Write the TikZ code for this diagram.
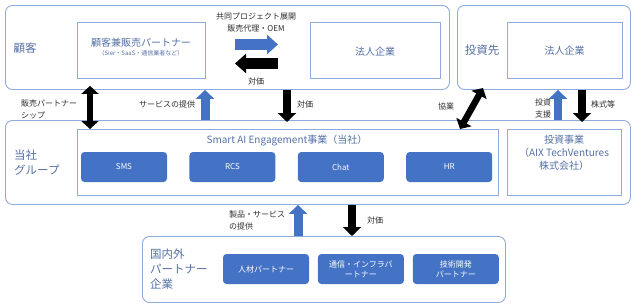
\documentclass[tikz,border=0pt]{standalone}
\usepackage{fontspec}
\setmainfont{Noto Sans CJK JP}
\usetikzlibrary{arrows.meta, positioning, calc}
\definecolor{FrameBlue}{RGB}{143,170,220}
\definecolor{UnitBlue}{RGB}{68,114,196}
\definecolor{LabelBlue}{RGB}{84,112,166}
\definecolor{NoteGray}{RGB}{45,45,45}
\tikzset{
  >=latex,
  % Frames
  group box/.style={draw=FrameBlue,line width=0.9pt,rounded corners=7pt,inner sep=0,anchor=north west},
  plain box/.style={draw=FrameBlue,line width=0.9pt,inner sep=0,anchor=north west},
  unit/.style={fill=UnitBlue,rounded corners=3.5pt,text=white,inner sep=0,minimum width=86pt,minimum height=30pt,align=center,font=\fontsize{8}{10}\selectfont},
  % Texts
  group label/.style={text=LabelBlue,inner sep=0,align=left,font=\fontsize{11.5}{15}\selectfont},
  box label/.style={text=LabelBlue,inner sep=0,align=center,font=\fontsize{10}{13}\selectfont},
  note/.style={text=NoteGray,inner sep=0,align=left,font=\fontsize{8}{12}\selectfont},
  % Block arrows
  flow/.style={line width=7.5pt,-{Triangle[length=9pt,width=18pt]}},
  wide flow/.style={line width=11pt,-{Triangle[length=11pt,width=19pt]}},
  both flow/.style={line width=6.5pt,{Triangle[length=8pt,width=17pt]}-{Triangle[length=8pt,width=17pt]}}
}

\begin{document}
\begin{tikzpicture}[x=1pt,y=-1pt]
  \useasboundingbox (0,0) rectangle (635,306);

  % customers and investees
  \node[group box,minimum width=444pt,minimum height=84pt] (customer) at (5,5) {};
  \node[group box,minimum width=173pt,minimum height=84pt] (investee) at (457,5) {};
  \node[plain box,minimum width=128pt,minimum height=56pt] (dualpartner) at (77,22) {};
  \node[plain box,minimum width=130pt,minimum height=56pt] (corpA) at (310,22) {};
  \node[plain box,minimum width=115pt,minimum height=56pt] (corpB) at (507,22) {};
  \node[group label] (customerlbl) at (25,48) {顧客};
  \node[group label] (investeelbl) at (482,50) {投資先};
  \node[box label] (dualpartnerlbl) at (141,43) {顧客兼販売パートナー};
  \node[box label,font=\fontsize{6}{8}\selectfont] (dualpartnersub) at (141,53.5) {（Sier・SaaS・通信業者など）};
  \node[box label] (corpAlbl) at (375,52) {法人企業};
  \node[box label] (corpBlbl) at (564.5,51) {法人企業};

  % own group
  \node[group box,minimum width=625pt,minimum height=84pt] (group) at (5,120) {};
  \node[plain box,minimum width=421pt,minimum height=66pt] (saie) at (77,129) {};
  \node[plain box,minimum width=114pt,minimum height=66pt] (invunit) at (507,129) {};
  \node[group label] (grouplbl) at (14,162.5) [anchor=west] {当社\\グループ};
  \node[box label] (saielbl) at (287,140) {Smart AI Engagement事業（当社）};
  \node[box label] (invunitlbl) at (564,153) {投資事業\\（AIX TechVentures\\株式会社）};
  \node[unit] (sms) at (124,167) {SMS};
  \node[unit,right=22pt of sms] (rcs) {RCS};
  \node[unit,right=22pt of rcs] (chat) {Chat};
  \node[unit,right=22pt of chat] (hr) {HR};

  % partners
  \node[group box,minimum width=363pt,minimum height=66pt] (partner) at (142,236) {};
  \node[group label,anchor=west] (partnerlbl) at (150,269.5) {国内外\\パートナー\\企業};
  \node[unit] (hrpartner) at (266,269) {人材パートナー};
  \node[unit,right=8.5pt of hrpartner] (infrapartner) {通信・インフラパ\\ートナー};
  \node[unit,right=8.5pt of infrapartner] (techpartner) {技術開発\\パートナー};

  % arrows in the customer row
  \coordinate (oemS) at (235,44.5); \coordinate (oemE) at (278,44.5);
  \coordinate (payS) at (278,63.5); \coordinate (payE) at (235,63.5);
  \draw[wide flow,UnitBlue] (oemS) -- (oemE);
  \draw[wide flow,black] (payS) -- (payE);
  \node[note,align=center] (oemlbl) at (256,23) {共同プロジェクト展開\\販売代理・OEM};
  \node[note] (paylbl) at (256,81) {対価};

  % arrows between customers and group
  \coordinate (salesX) at (90,0);
  \coordinate (serviceX) at (205,0);
  \coordinate (feeX) at (287,0);
  \coordinate (collabS) at (483,88); \coordinate (collabE) at (460,129);
  \coordinate (supportX) at (558,0);
  \coordinate (equityX) at (582,0);
  \draw[both flow,black] ([yshift=-7pt]salesX |- dualpartner.south) -- (salesX |- saie.north);
  \draw[flow,UnitBlue,line width=9pt] (serviceX |- group.north) -- (serviceX |- customer.south);
  \draw[flow,black] (feeX |- customer.south) -- ([yshift=-2pt]feeX |- group.north);
  \draw[both flow,black] (collabS) -- (collabE);
  \draw[flow,UnitBlue] (supportX |- group.north) -- (supportX |- investee.south);
  \draw[flow,black] (equityX |- investee.south) -- ([yshift=-2pt]equityX |- group.north);
  \node[note,anchor=west] (saleslbl) at (21,109) {販売パートナー\\シップ};
  \node[note] (servicelbl) at (167,104) {サービスの提供};
  \node[note] (feelbl) at (305,104) {対価};
  \node[note] (collablbl) at (446,106) {協業};
  \node[note,align=center] (supportlbl) at (543,108.5) {投資\\支援};
  \node[note] (equitylbl) at (603,104) {株式等};

  % arrows between group and partners
  \coordinate (productX) at (298,0);
  \coordinate (rewardX) at (352,0);
  \draw[flow,UnitBlue,line width=9pt] (productX |- partner.north) -- (productX |- group.south);
  \draw[flow,black] (rewardX |- group.south) -- (rewardX |- partner.north);
  \node[note,anchor=west] (productlbl) at (229,220) {製品・サービス\\の提供};
  \node[note] (rewardlbl) at (375,220) {対価};
\end{tikzpicture}
\end{document}
